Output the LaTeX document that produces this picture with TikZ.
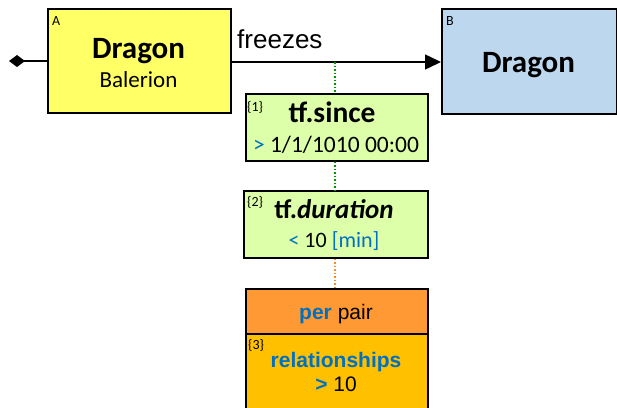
\documentclass[tikz,border=0pt]{standalone}
\usepackage{fontspec}
\setmainfont{Carlito}
\newfontfamily\arialfont{Liberation Sans}
\usetikzlibrary{arrows.meta}

\definecolor{dragonyellow}{RGB}{255,255,102}
\definecolor{dragonblue}{RGB}{189,215,238}
\definecolor{filtergreen}{RGB}{221,255,170}
\definecolor{perorange}{RGB}{255,153,51}
\definecolor{relamber}{RGB}{255,192,0}
\definecolor{keyblue}{RGB}{0,112,192}
\definecolor{dotgreen}{RGB}{0,150,0}
\definecolor{dotorange}{RGB}{245,140,40}

\newcommand{\fs}[1]{\fontsize{#1}{#1}\selectfont}

\begin{document}
\begin{tikzpicture}[x=1pt,y=-1pt,>=Triangle,
    box/.style={draw=black,line width=1.5pt,anchor=north west,inner sep=0pt},
    tag/.style={anchor=north west,inner sep=0pt,font=\fs{14}},
    txt/.style={anchor=base,inner sep=0pt}]
    \useasboundingbox (0,0) rectangle (617,407);
    % class boxes
    \node[box,fill=dragonyellow,minimum width=183pt,minimum height=104pt] (dragonA) at (47,8) {};
    \node[box,fill=dragonblue,minimum width=175pt,minimum height=105pt] (dragonB) at (441,8) {};
    \node[tag] (tagA) at (52,16) {A};
    \node[tag] (tagB) at (446,16) {B};
    \node[txt,font=\fs{31}\bfseries] (nameA) at (138.5,58) {Dragon};
    \node[txt,font=\fs{23}] (instA) at (138.5,87) {Balerion};
    \node[txt,font=\fs{31}\bfseries] (nameB) at (528.5,72) {Dragon};
    % relationship
    \coordinate (tail) at (9,61);
    \draw[{Diamond[length=16pt,width=12pt]}-,line width=1.5pt] (tail) -- (dragonA.west |- tail);
    \draw[-{Triangle[length=16pt,width=15pt]},line width=1.5pt] (dragonA.east |- 0,62) -- (dragonB.west |- 0,62);
    \node[txt,anchor=base west,font=\arialfont\fs{26}] (verb) at (237,48) {freezes};
    \coordinate (fork) at (335,62);
    % filters
    \node[box,fill=filtergreen,minimum width=182pt,minimum height=67pt] (since) at (245,93) {};
    \node[tag] (tag1) at (247,101) {\{1\}};
    \node[txt,font=\fs{29.5}\bfseries] (sinceA) at (332,122) {tf.since};
    \node[txt,font=\fs{23.5}] (sinceB) at (336,152) {\textcolor{keyblue}{>} 1/1/1010 00:00};
    \node[box,fill=filtergreen,minimum width=184pt,minimum height=67pt] (dur) at (243,190) {};
    \node[tag] (tag2) at (247,196) {\{2\}};
    \node[txt,font=\fs{27}\bfseries] (durA) at (334,218) {tf.\textit{duration}};
    \node[txt,font=\fs{22}] (durB) at (334,247) {\textcolor{keyblue}{<} 10 \textcolor{keyblue}{[min]}};
    % aggregation
    \node[box,fill=perorange,minimum width=182pt,minimum height=45pt] (per) at (245,288) {};
    \node[txt,font=\arialfont\fs{21}] (perA) at (336,319) {\textbf{\textcolor{keyblue}{per}} pair};
    \node[box,fill=relamber,minimum width=182pt,minimum height=80pt] (rel) at (245,333) {};
    \node[tag] (tag3) at (248,339) {\{3\}};
    \node[txt,font=\arialfont\fs{21}\bfseries,text=keyblue] (relA) at (336,367) {relationships};
    \node[txt,font=\arialfont\fs{21}] (relB) at (336,391) {\textbf{\textcolor{keyblue}{>}} 10};
    % dotted links
    \draw[dotgreen,dotted,line width=1.5pt] (fork) -- (fork |- since.north);
    \draw[dotgreen,dotted,line width=1.5pt] (since.south -| fork) -- (fork |- dur.north);
    \draw[dotorange,dotted,line width=1.5pt] (dur.south -| fork) -- (fork |- per.north);
\end{tikzpicture}
\end{document}
